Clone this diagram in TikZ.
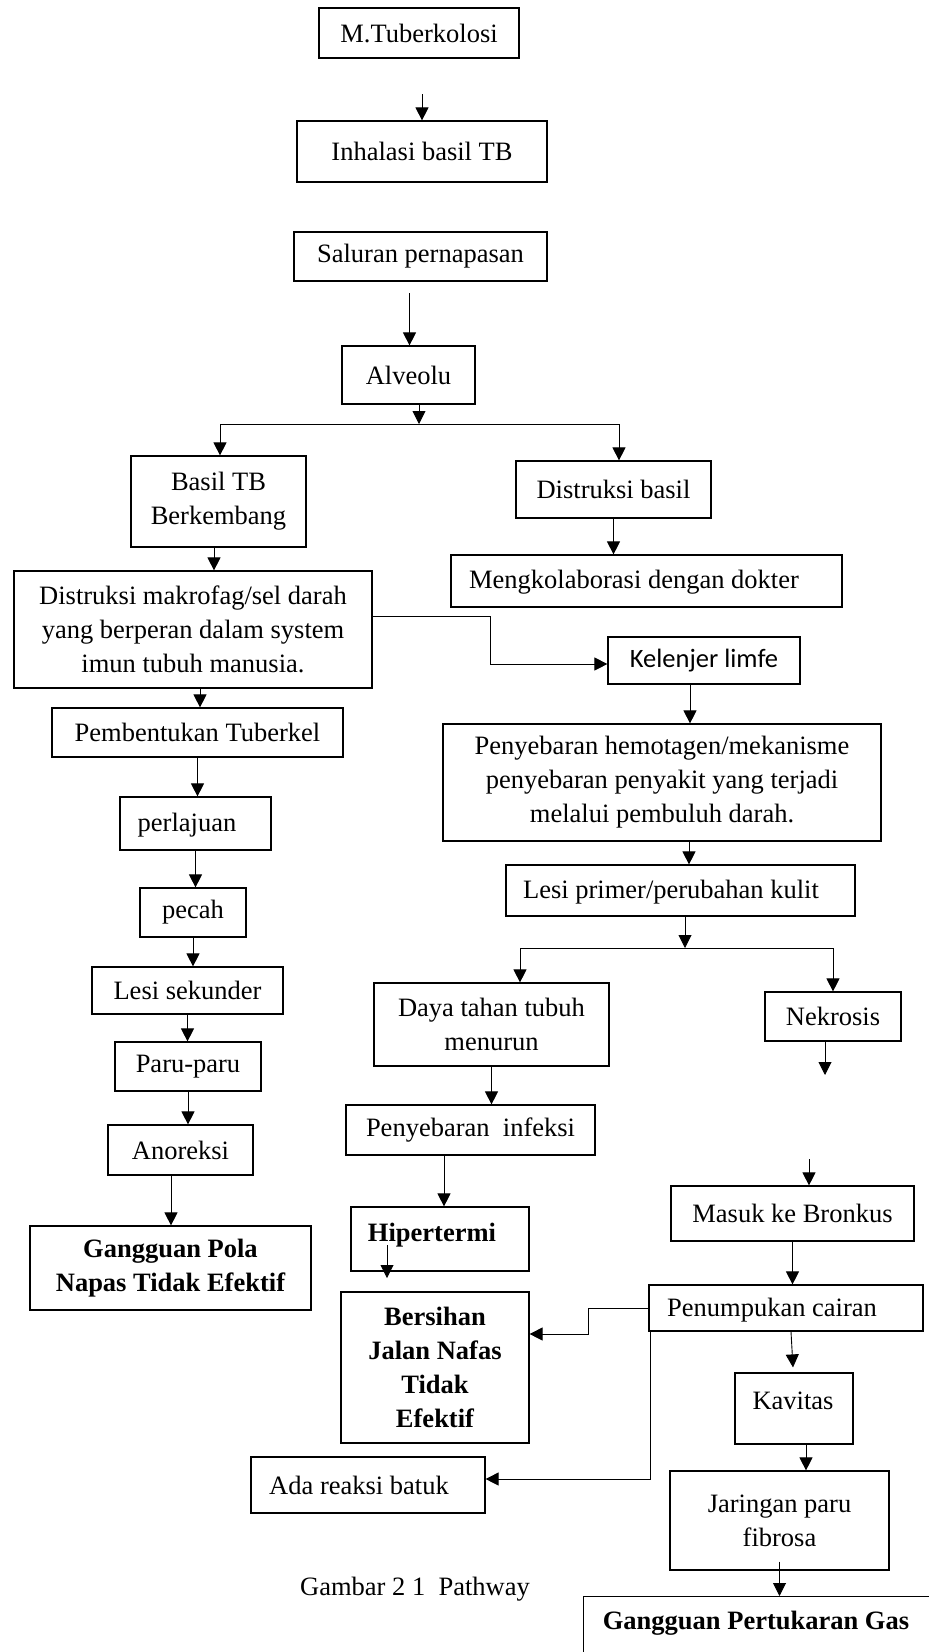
\documentclass[tikz,border=0pt]{standalone}
\usepackage{fontspec}
\setmainfont{Liberation Serif}
\newfontfamily\calib{Carlito}
\usetikzlibrary{arrows.meta}
\newcommand\fs{\fontsize{26.5}{34}\selectfont}
\begin{document}
\begin{tikzpicture}[x=1pt,y=-1pt,
  box/.style={draw, line width=1.2pt, inner sep=0pt, align=center, font=\fs},
  sz/.style 2 args={minimum width=#1pt, minimum height=#2pt},
  txt/.style={inner sep=0pt, align=center, font=\fs},
  btxt/.style={inner sep=0pt, align=center, font=\fs\bfseries},
  arr/.style={-{Triangle[length=13pt,width=13pt]}, line width=0.9pt},
  ln/.style={line width=0.9pt}]
\useasboundingbox (0,0) rectangle (929,1652);

% ---- boxes ----
\node[box, sz={200}{50}] (mt) at (419,33) {M.Tuberkolosi};
\node[box, sz={250}{61}] (inh) at (422,151.5) {Inhalasi basil TB};
\node[box, sz={253}{49}] (sal) at (420.5,256.5) {Saluran pernapasan};
\node[box, sz={133}{58}] (alv) at (408.5,375) {Alveolu};
\node[box, sz={175}{91}] (basil) at (218.5,501.5) {Basil TB\\Berkembang};
\node[box, sz={195}{57}] (dbas) at (613.5,489.5) {Distruksi basil};
\node[box, sz={391}{52}] (mkol) at (646.5,581) {};
\node[txt] (mkolt) at (634,582) {Mengkolaborasi dengan dokter};
\node[box, sz={358}{117}] (dmak) at (193,629.5) {Distruksi makrofag/sel darah\\yang berperan dalam system\\imun tubuh manusia.};
\node[box, sz={192}{47}, font=\fontsize{26.5}{34}\calib] (kel) at (704,660.5) {Kelenjer limfe};
\node[box, sz={438}{117}] (peny) at (662,782.5) {Penyebaran hemotagen/mekanisme\\penyebaran penyakit yang terjadi\\melalui pembuluh darah.};
\node[box, sz={291}{49}] (pemb) at (197.5,732.5) {Pembentukan Tuberkel};
\node[box, sz={151}{53}] (perl) at (195.5,823.5) {};
\node[txt] (perlt) at (187,825) {perlajuan};
\node[box, sz={106}{49}] (pecah) at (193,912.5) {pecah};
\node[box, sz={191}{47}] (lsek) at (187.5,990.5) {Lesi sekunder};
\node[box, sz={146}{49}] (paru) at (188,1066.5) {Paru-paru};
\node[box, sz={145}{50}] (anor) at (180.5,1150) {Anoreksi};
\node[box, sz={281}{84}, font=\fs\bfseries] (gpola) at (170.5,1268) {Gangguan Pola\\Napas Tidak Efektif};
\node[box, sz={349}{51}] (lprim) at (680.5,890.5) {};
\node[txt] (lprimt) at (671,892) {Lesi primer/perubahan kulit};
\node[box, sz={235}{83}] (daya) at (491.5,1024.5) {Daya tahan tubuh\\menurun};
\node[box, sz={136}{49}] (nek) at (833,1016.5) {Nekrosis};
\node[box, sz={249}{50}] (pinf) at (470.5,1130) {Penyebaran\ \ infeksi};
\node[box, sz={178}{64}] (hip) at (440,1239) {};
\node[btxt] (hipt) at (432,1235) {Hipertermi};
\node[box, sz={243}{55}] (bron) at (792.5,1213.5) {Masuk ke Bronkus};
\node[box, sz={274}{46}] (pen) at (786,1308) {};
\node[txt] (pent) at (772,1310) {Penumpukan cairan};
\node[box, sz={188}{151}, font=\fs\bfseries] (bers) at (435,1367.5) {Bersihan\\Jalan Nafas\\Tidak\\Efektif};
\node[box, sz={234}{56}] (ada) at (368,1485) {};
\node[txt] (adat) at (359,1485) {Ada reaksi batuk};
\node[box, sz={118}{71}] (kav) at (794,1408.5) {};
\node[txt] (kavt) at (793,1401) {Kavitas};
\node[box, sz={219}{99}] (jar) at (779.5,1520.5) {Jaringan paru\\fibrosa};
\begin{scope}
\clip (0,0) rectangle (929,1652);
\node[box, sz={370}{90}, anchor=north west] (ggas) at (583,1596) {};
\end{scope}
\node[btxt] (ggast) at (756,1623) {Gangguan Pertukaran Gas};
\node[txt] (cap) at (415,1589) {Gambar 2 1\ \ Pathway};

% ---- connectors ----
\coordinate (c1) at (422,94);
\draw[arr] (c1) -- (inh.north -| c1);
\coordinate (c2) at (409.5,293);
\draw[arr] (c2) -- (alv.north -| c2);
\coordinate (s1) at (419,424);
\draw[arr] (alv.south -| s1) -- (s1);
\draw[arr] (s1) -| ([xshift=1.5pt]basil.north);
\draw[arr] (s1) -| ([xshift=5.5pt]dbas.north);
\draw[arr] (dbas.south) -- (mkol.north -| dbas.south);
\draw[arr] ([xshift=-4.5pt]basil.south) coordinate (t) -- (dmak.north -| t);
\draw[arr] ([yshift=13.5pt]dmak.east) -- ++(118,0) |- ([yshift=-3.5pt]kel.west);
\draw[arr] ([xshift=-14pt]kel.south) coordinate (t) -- (peny.north -| t);
\draw[arr] ([xshift=7pt]dmak.south) coordinate (t) -- (pemb.north -| t);
\draw[arr] (pemb.south) -- (perl.north -| pemb.south);
\draw[arr] (perl.south) -- (pecah.north -| perl.south);
\draw[arr] (pecah.south) -- (lsek.north -| pecah.south);
\draw[arr] (lsek.south) -- (paru.north -| lsek.south);
\draw[arr] (paru.south) -- (anor.north -| paru.south);
\draw[arr] ([xshift=-9.5pt]anor.south) coordinate (t) -- (gpola.north -| t);
\draw[arr] ([xshift=27pt]peny.south) coordinate (t) -- (lprim.north -| t);
\coordinate (s2) at (685,948);
\draw[arr] (lprim.south -| s2) -- (s2);
\draw[arr] (s2) -| ([xshift=28.5pt]daya.north);
\draw[arr] (s2) -| (nek.north);
\coordinate (n1) at (825,1075);
\draw[arr] (nek.south -| n1) -- (n1);
\draw[arr] (daya.south) -- (pinf.north -| daya.south);
\draw[arr] ([xshift=-26.5pt]pinf.south) coordinate (t) -- (hip.north -| t);
\coordinate (h1) at (387,1278);
\draw[arr] ([xshift=-53pt,yshift=-6pt]hip.center) -- (h1);
\coordinate (b1) at (809,1159);
\draw[arr] (b1) -- (bron.north -| b1);
\draw[arr] (bron.south) -- (pen.north -| bron.south);
\draw[arr] (pen.west) -- ++(-60,0) |- ([yshift=33.5pt]bers.east);
\draw[arr] ([xshift=2pt]pen.south west) |- ([yshift=6pt]ada.east);
\draw[arr] ([xshift=5pt]pen.south) -- ([xshift=-1pt,yshift=5pt]kav.north);
\draw[arr] ([xshift=12pt]kav.south) coordinate (t) -- (jar.north -| t);
\draw[arr] ([yshift=9pt]jar.south) -- (ggas.north -| jar.south);
\end{tikzpicture}
\end{document}
